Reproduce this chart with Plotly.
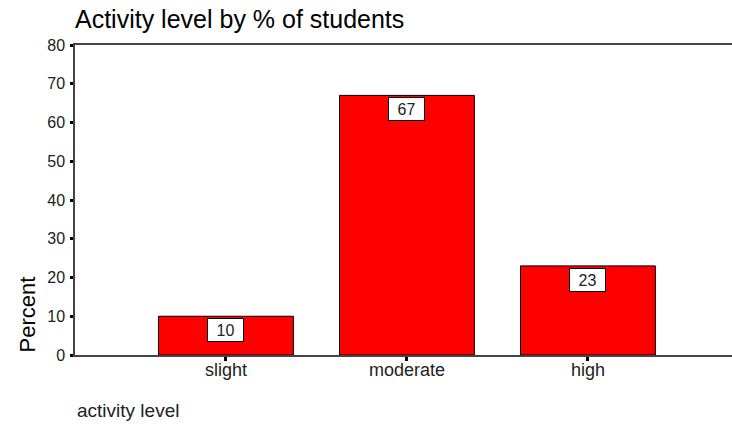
import plotly.graph_objects as go

# Survey results: share of students at each activity level
levels = ["slight", "moderate", "high"]
percents = [10, 67, 23]
y_ticks = [0, 10, 20, 30, 40, 50, 60, 70, 80]

FONT = "Liberation Sans, Arial, sans-serif"
TEXT = "#222222"

fig = go.Figure()
fig.add_trace(go.Bar(
    x=list(range(len(levels))),
    y=percents,
    width=0.745,
    marker=dict(color="#FF0000", line=dict(color="#000000", width=1)),
    hoverinfo="skip",
))

# Value labels in white boxes just under each bar top
for i, v in enumerate(percents):
    fig.add_annotation(
        x=i, y=v, xref="x", yref="y",
        text=str(v), showarrow=False,
        yanchor="top", yshift=-2,
        width=33, height=20,
        bgcolor="#FFFFFF", bordercolor="#000000", borderwidth=1, borderpad=1,
        font=dict(family=FONT, size=16, color=TEXT),
    )

fig.add_annotation(
    x=-75 / 657, y=0, xref="paper", yref="paper",
    text="Percent", showarrow=False, textangle=-90,
    xanchor="left", yanchor="bottom", xshift=12,
    font=dict(family=FONT, size=22, color="#000000"),
)
fig.add_annotation(
    x=0, y=-55 / 310, xref="paper", yref="paper",
    text="activity level", showarrow=False,
    xanchor="left", yanchor="middle",
    font=dict(family=FONT, size=19, color=TEXT),
)

fig.update_layout(
    width=732, height=425,
    margin=dict(l=75, r=0, t=45, b=70),
    paper_bgcolor="#FFFFFF", plot_bgcolor="#FFFFFF",
    showlegend=False,
    title=dict(
        text="Activity level by % of students",
        x=75 / 732, xanchor="left", y=1 - 19 / 425, yanchor="middle",
        font=dict(family=FONT, size=25, color="#000000"),
    ),
    xaxis=dict(
        range=[-0.834, 2.796],
        tickmode="array", tickvals=list(range(len(levels))), ticktext=levels,
        ticks="outside", ticklen=4, tickwidth=3, tickcolor="#000000",
        ticklabelstandoff=-6,
        showline=True, linecolor="#444444", linewidth=1.5, mirror=True,
        showgrid=False, zeroline=False,
        tickfont=dict(family=FONT, size=18, color=TEXT),
    ),
    yaxis=dict(
        range=[0, 80],
        tickmode="array", tickvals=y_ticks,
        ticks="outside", ticklen=3, tickwidth=3, tickcolor="#000000",
        ticklabelstandoff=2,
        showline=True, linecolor="#444444", linewidth=1.5,
        showgrid=False, zeroline=False,
        tickfont=dict(family=FONT, size=16, color=TEXT),
    ),
)

fig.write_html("out.html")
